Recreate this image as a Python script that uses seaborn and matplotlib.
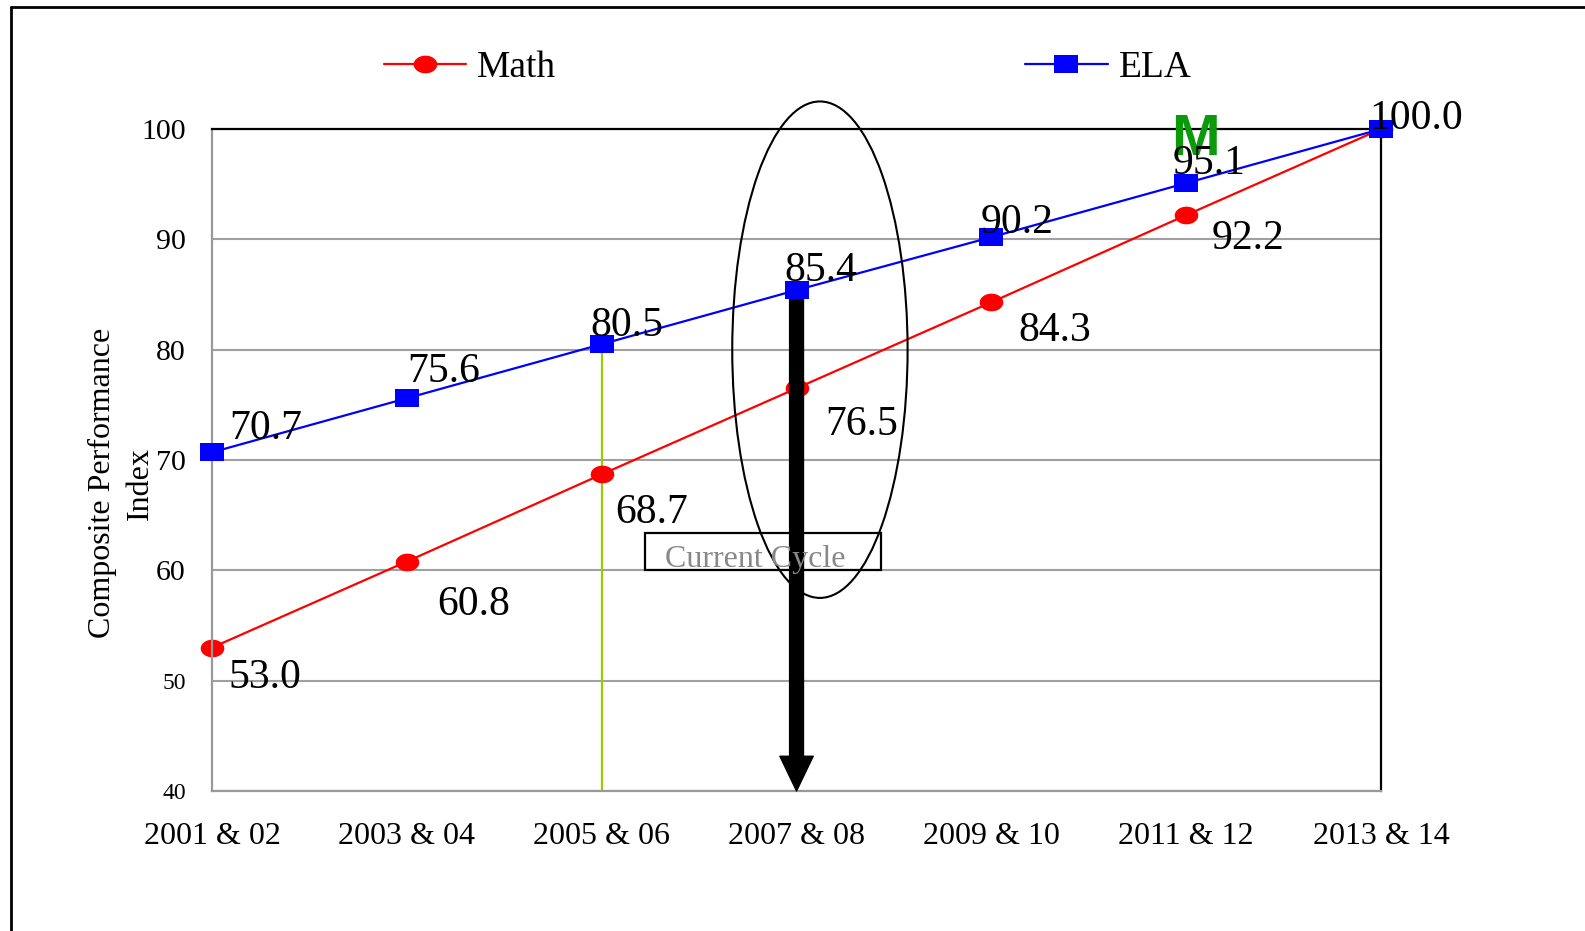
import pandas as pd
import numpy as np
import seaborn as sns
import matplotlib.pyplot as plt
from matplotlib.patches import Ellipse, Rectangle
from matplotlib.lines import Line2D
plt.switch_backend('agg')

periods = ['2001 & 02', '2003 & 04', '2005 & 06', '2007 & 08', '2009 & 10', '2011 & 12', '2013 & 14']
math_cpi = [53.0, 60.8, 68.7, 76.5, 84.3, 92.2, 100.0]
ela_cpi = [70.7, 75.6, 80.5, 85.4, 90.2, 95.1, 100.0]
y_ticks = [40, 50, 60, 70, 80, 90, 100]

# label offsets (pixels) for the value annotations
ela_off = [(54, 24), (37, 26), (25, 18), (24, 19), (26, 14), (23, 19), (35, 10)]
math_off = [(53, -30), (67, -43), (50, -38), (65, -36), (63, -29), (62, -24)]

sns.set_style('white')
plt.rcParams['font.family'] = ['Liberation Serif', 'DejaVu Serif']
plt.rcParams['text.color'] = 'black'
plt.rcParams['axes.labelcolor'] = 'black'
plt.rcParams['xtick.labelcolor'] = 'black'
plt.rcParams['ytick.labelcolor'] = 'black'

# slightly squashed markers like the original (wider than tall)
t = np.linspace(0, 2 * np.pi, 41)
oval = list(zip(np.cos(t), 0.75 * np.sin(t)))
rect = [(-1, -0.75), (1, -0.75), (1, 0.75), (-1, 0.75), (-1, -0.75)]

df = pd.DataFrame({
    'Period': periods * 2,
    'CPI': math_cpi + ela_cpi,
    'Subject': ['Math'] * len(periods) + ['ELA'] * len(periods),
})

fig = plt.figure(figsize=(15.85, 9.31), dpi=100)
ax = fig.add_axes([0.1338, 0.1504, 0.7375, 0.711])

sns.lineplot(data=df, x='Period', y='CPI', hue='Subject', style='Subject',
             hue_order=['Math', 'ELA'], palette={'Math': '#ff0000', 'ELA': '#0000ff'},
             markers={'Math': oval, 'ELA': rect}, dashes=False, lw=1.6,
             markersize=17, markeredgewidth=0, ax=ax)
for ln in ax.get_lines():
    ln.set_clip_on(False)
    if ln.get_color() == '#0000ff':
        ln.set_zorder(4)

ax.set_xlim(0, len(periods) - 1)
ax.set_ylim(40, 100)
ax.set_yticks(y_ticks)
ax.set_xlabel('')
ax.set_ylabel('Composite Performance\nIndex', fontsize=23, linespacing=1.4)
ax.yaxis.set_label_coords(-0.049, 0.465)
ax.grid(axis='y', color='#a0a0a0', lw=1.5)
ax.set_axisbelow(True)

for s in ['left', 'bottom']:
    ax.spines[s].set_color('#999999')
    ax.spines[s].set_linewidth(1.6)
for s in ['top', 'right']:
    ax.spines[s].set_color('black')
    ax.spines[s].set_linewidth(1.6)
ax.tick_params(axis='both', direction='out', length=7, width=1.5, color='#999999')
ax.tick_params(axis='x', labelsize=23, pad=15)
ax.tick_params(axis='y', labelsize=21.5, pad=12)
for lbl, v in zip(ax.get_yticklabels(), y_ticks):
    if v < 60:
        lbl.set_fontsize(17)

# value labels
for i, v in enumerate(ela_cpi):
    ax.annotate('%.1f' % v, (i, v), xytext=ela_off[i], textcoords='offset pixels',
                ha='center', va='center', fontsize=30, zorder=6, annotation_clip=False)
for i, v in enumerate(math_cpi[:-1]):
    ax.annotate('%.1f' % v, (i, v), xytext=math_off[i], textcoords='offset pixels',
                ha='center', va='center', fontsize=30, zorder=6)

# current cycle markers
ax.plot([2, 2], [40, ela_cpi[2]], color='#99cc00', lw=1.6, zorder=1.5)
ax.annotate('', xy=(3, 40), xytext=(3, ela_cpi[3]),
            arrowprops=dict(facecolor='black', edgecolor='black', width=10,
                            headwidth=24, headlength=25, shrink=0), zorder=3)
ax.add_patch(Ellipse((3.12, 80), 0.9, 45, fill=False, ec='black', lw=1.5,
                     clip_on=False, zorder=5))
ax.add_patch(Rectangle((2.223, 60), 1.211, 3.4, fill=False, ec='black', lw=1.6,
                       clip_on=False, zorder=5))
ax.text(2.325, 60.3, 'Current Cycle', color='#888888', fontsize=23, va='baseline', zorder=5)
ax.text(5.046, 99.0, 'M', color='#0a9a0a', fontsize=42, fontweight='bold',
        family=['Liberation Sans', 'DejaVu Sans'], ha='center', va='center',
        clip_on=False, zorder=5)

sns.move_legend(ax, 'center', bbox_to_anchor=(0.497, 0.927), bbox_transform=fig.transFigure,
                ncol=2, title=None, frameon=False, fontsize=27, handlelength=2.2,
                handletextpad=0.3, columnspacing=12.5)

# outer frame
fig.add_artist(Line2D([11 / 1585, 11 / 1585], [0, 1 - 6.5 / 931], color='black', lw=2))
fig.add_artist(Line2D([11 / 1585, 1], [1 - 6.5 / 931, 1 - 6.5 / 931], color='black', lw=2))

fig.savefig('out.png', dpi=100)
